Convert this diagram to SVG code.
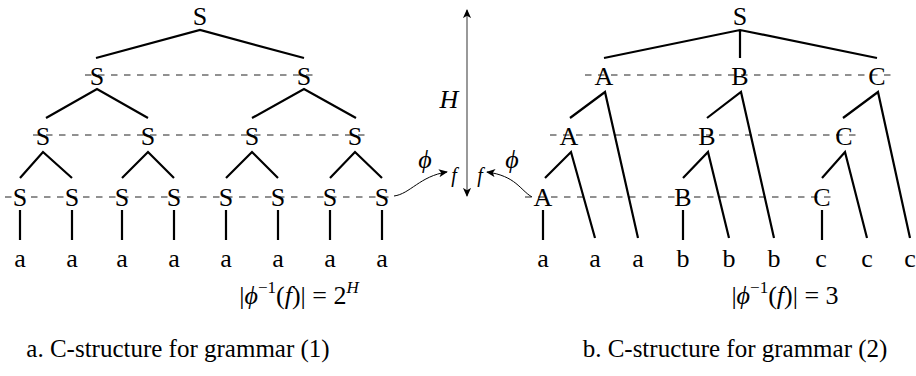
<svg xmlns="http://www.w3.org/2000/svg" width="916" height="376" viewBox="0 0 916 376">
<style>
text{font-family:"Liberation Serif","Times New Roman",Tinos,"Nimbus Roman","DejaVu Serif","Noto Serif",FreeSerif,serif;font-size:26px;fill:#000;text-anchor:middle}
.it{font-style:italic}
.e{stroke:#000;stroke-width:2.2;fill:none;stroke-linecap:butt}
.d{stroke:#222;stroke-width:1;stroke-dasharray:6.5 6.5;fill:none}
.cap{font-size:25px}
</style>
<defs>
<marker id="ah" viewBox="0 0 10 10" refX="9" refY="5" markerWidth="9" markerHeight="9" markerUnits="userSpaceOnUse" orient="auto-start-reverse">
<path d="M0,0.5 L10,5 L0,9.5 L2.5,5 Z" fill="#000"/>
</marker>
</defs>
<g id="dashes">
<line class="d" x1="85" y1="75" x2="317" y2="75"/>
<line class="d" x1="33" y1="135" x2="368" y2="135"/>
<line class="d" x1="5" y1="197" x2="392" y2="197"/>
<line class="d" x1="585" y1="75" x2="892" y2="75"/>
<line class="d" x1="550" y1="135" x2="858" y2="135"/>
<line class="d" x1="525" y1="197" x2="835" y2="197"/>
</g>
<g id="connectors">
<path class="e" d="M96,58 L200,30 L304,58"/>
<path class="e" d="M46,118 L97,89 L148,118"/>
<path class="e" d="M252,118 L304,89 L356,118"/>
<path class="e" d="M20,178 L43,152 L72,178"/>
<path class="e" d="M122,178 L148,152 L174,178"/>
<path class="e" d="M226,178 L252,152 L278,178"/>
<path class="e" d="M330,178 L355,152 L382,178"/>
<path class="e" d="M20,210 V240 M72,210 V240 M122,210 V240 M174,210 V240 M226,210 V240 M278,210 V240 M330,210 V240 M382,210 V240"/>
<path class="e" d="M604,58 L740,30 L877,58 M740,30 V58"/>
<path class="e" d="M570,118 L605,92 L638,238"/>
<path class="e" d="M707,118 L741,92 L774,238"/>
<path class="e" d="M843,118 L878,92 L910,238"/>
<path class="e" d="M545,178 L571,152 L595,238"/>
<path class="e" d="M683,178 L708,152 L729,238"/>
<path class="e" d="M822,178 L845,152 L867,238"/>
<path class="e" d="M543,210 V240 M683,210 V240 M822,210 V240"/>
<line x1="467" y1="10" x2="467" y2="196" stroke="#808080" stroke-width="1.6" marker-start="url(#ah)" marker-end="url(#ah)"/>
<path d="M394,196 C410,194 420,176 447,172" stroke="#000" stroke-width="1" fill="none" marker-end="url(#ah)"/>
<path d="M532,197 C520,190 516,176 487,172" stroke="#000" stroke-width="1" fill="none" marker-end="url(#ah)"/>
</g>
<g id="left-tree">
<g id="L0"><text x="200" y="25">S</text></g>
<g id="L1a"><text x="97" y="85">S</text></g>
<g id="L1b"><text x="304" y="85">S</text></g>
<g id="L2a"><text x="43" y="145">S</text></g>
<g id="L2b"><text x="148" y="145">S</text></g>
<g id="L2c"><text x="252" y="145">S</text></g>
<g id="L2d"><text x="355" y="145">S</text></g>
<g id="L3a"><text x="20" y="206">S</text></g>
<g id="L3b"><text x="72" y="206">S</text></g>
<g id="L3c"><text x="122" y="206">S</text></g>
<g id="L3d"><text x="174" y="206">S</text></g>
<g id="L3e"><text x="226" y="206">S</text></g>
<g id="L3f"><text x="278" y="206">S</text></g>
<g id="L3g"><text x="330" y="206">S</text></g>
<g id="L3h"><text x="382" y="206">S</text></g>
<g id="Lleaves">
<text x="20" y="267">a</text><text x="72" y="267">a</text><text x="122" y="267">a</text><text x="174" y="267">a</text>
<text x="226" y="267">a</text><text x="278" y="267">a</text><text x="330" y="267">a</text><text x="382" y="267">a</text>
</g>
</g>
<g id="right-tree">
<g id="R0"><text x="740" y="25">S</text></g>
<g id="R1A"><text x="604" y="85">A</text></g>
<g id="R1B"><text x="740" y="85">B</text></g>
<g id="R1C"><text x="877" y="85">C</text></g>
<g id="R2A"><text x="569" y="145">A</text></g>
<g id="R2B"><text x="707" y="145">B</text></g>
<g id="R2C"><text x="844" y="145">C</text></g>
<g id="R3A"><text x="543" y="206">A</text></g>
<g id="R3B"><text x="683" y="206">B</text></g>
<g id="R3C"><text x="822" y="206">C</text></g>
<g id="Rleaves">
<text x="543" y="267">a</text><text x="595" y="267">a</text><text x="638" y="267">a</text>
<text x="683" y="267">b</text><text x="729" y="267">b</text><text x="774" y="267">b</text>
<text x="821" y="267">c</text><text x="867" y="267">c</text><text x="910" y="267">c</text>
</g>
</g>
<g id="center-labels">
<text class="it" x="449" y="108">H</text>
<text class="it" x="425" y="168">ϕ</text>
<text class="it" x="454" y="182" style="font-size:20px">f</text>
<text class="it" x="480" y="182" style="font-size:20px">f</text>
<text class="it" x="512" y="168">ϕ</text>
</g>
<g id="formulas">
<text x="299" y="304">|<tspan class="it">ϕ</tspan><tspan dy="-11" style="font-size:17px">−1</tspan><tspan dy="11">(</tspan><tspan class="it">f</tspan>)| = 2<tspan dy="-11" class="it" style="font-size:17px">H</tspan></text>
<text x="785" y="304">|<tspan class="it">ϕ</tspan><tspan dy="-11" style="font-size:17px">−1</tspan><tspan dy="11">(</tspan><tspan class="it">f</tspan>)| = 3</text>
</g>
<g id="captions">
<text class="cap" x="178" y="357">a. C-structure for grammar (1)</text>
<text class="cap" x="735" y="357">b. C-structure for grammar (2)</text>
</g>
</svg>
